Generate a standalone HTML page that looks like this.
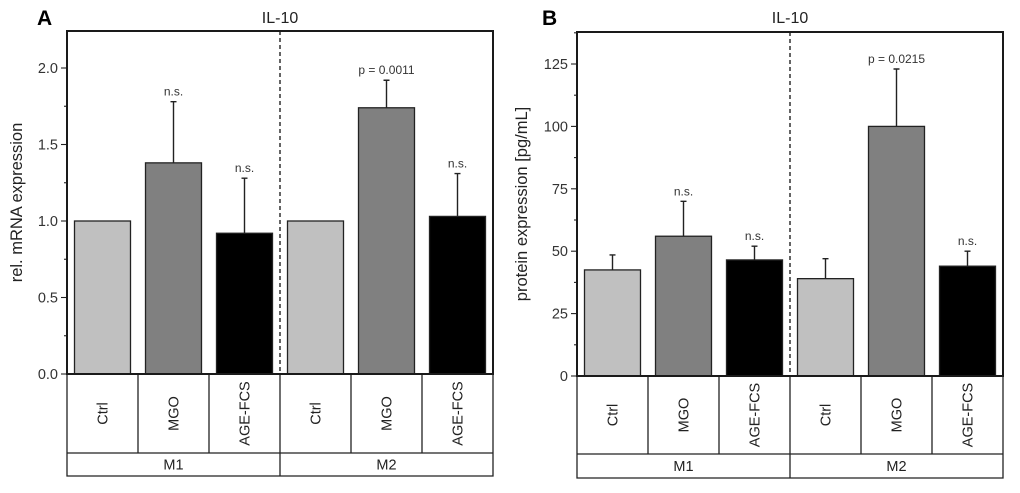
<!DOCTYPE html>
<html><head><meta charset="utf-8"><style>
body{margin:0;background:#fff;}
svg{display:block;font-family:"Liberation Sans",Arial,sans-serif;}
</style></head><body>
<svg id="fig" width="1020" height="493" viewBox="0 0 1020 493"></svg>
<script>
const categories = ["Ctrl","MGO","AGE-FCS","Ctrl","MGO","AGE-FCS"];
const groups = ["M1","M2"];
const mrnaValues = [1.0, 1.38, 0.92, 1.0, 1.74, 1.03];
const mrnaErrTop = [1.0, 1.78, 1.28, 1.0, 1.92, 1.31];
const mrnaNotes = ["", "n.s.", "n.s.", "", "p = 0.0011", "n.s."];
const mrnaTicks = [0, 0.5, 1.0, 1.5, 2.0];
const mrnaTickLabels = ["0.0","0.5","1.0","1.5","2.0"];
const protValues = [42.5, 56, 46.5, 39, 100, 44];
const protErrTop = [48.5, 70, 52, 47, 123, 50];
const protNotes = ["", "n.s.", "n.s.", "", "p = 0.0215", "n.s."];
const protTicks = [0, 25, 50, 75, 100, 125];
const protTickLabels = ["0","25","50","75","100","125"];
const fills = ["#c0c0c0","#808080","#000000","#c0c0c0","#808080","#000000"];

const NS = "http://www.w3.org/2000/svg";
const svg = document.getElementById('fig');
function mk(tag, attrs, parent, text){
  const e = document.createElementNS(NS, tag);
  for (const k in attrs) e.setAttribute(k, attrs[k]);
  if (text !== undefined) e.textContent = text;
  (parent||svg).appendChild(e);
  return e;
}

function panel(cfg){
  const g = mk('g', {});
  
  
  const L=cfg.left, R=cfg.right, T=cfg.top, B=cfg.bottom;
  const y = v => B - v / cfg.ymax * (B - T);
  const colW = (R - L) / categories.length;
  const x = i => L + colW * (i + 0.5);
  const mid = (L + R) / 2;

  const lab = mk('text', {x: cfg.labelX, y: 25, 'font-size': 21, 'font-weight': 'bold', fill: '#000'}, g, cfg.letter);
  
  
  const title = mk('text', {x: mid, y: 23, 'font-size': 16, 'text-anchor': 'middle', fill: '#222'}, g, 'IL-10');
  
  

  for (let i = 0; i < categories.length; i++){
    const bw = 56;
    const top = y(cfg.values[i]);
    const r = mk('rect', {x: x(i) - bw/2, y: top, width: bw, height: B - top, fill: fills[i], stroke: '#222', 'stroke-width': 1.3}, g);
    
    
    if (cfg.errTop[i] > cfg.values[i]){
      const e = mk('path', {d: `M${x(i)},${top} V${y(cfg.errTop[i])} M${x(i)-3},${y(cfg.errTop[i])} H${x(i)+3}`, stroke: '#222', 'stroke-width': 1.4, fill: 'none'}, g);
      
      
    }
    if (cfg.notes[i]){
      const n = mk('text', {x: x(i), y: y(cfg.errTop[i]) - 6, 'font-size': 12, 'text-anchor': 'middle', fill: '#333'}, g, cfg.notes[i]);
      
      
    }
  }
  const dv = mk('line', {x1: mid, y1: T, x2: mid, y2: B, stroke: '#222', 'stroke-width': 1.4, 'stroke-dasharray': '4,3'}, g);
  
  
  const step = cfg.ticks[1] - cfg.ticks[0];
  for (let v = 0; v <= cfg.ymax; v += step/2){
    const major = Math.abs((v/step) - Math.round(v/step)) < 1e-6;
    const t = mk('line', {x1: L, x2: L - (major ? 6 : 3), y1: y(v), y2: y(v), stroke: '#222', 'stroke-width': 1.1}, g);
    
    
  }
  cfg.ticks.forEach((v, k) => {
    const tl = mk('text', {x: L - 9, y: y(v) + 5, 'font-size': 14.5, 'text-anchor': 'end', fill: '#333'}, g, cfg.tickLabels[k]);
    
    
  });
  const yt = mk('text', {x: 0, y: 0, 'font-size': 16.5, 'text-anchor': 'middle', fill: '#222', transform: `translate(${cfg.ytitleX},${(T+B)/2}) rotate(-90)`}, g, cfg.ytitle);
  
  
  const tb = mk('path', {d: `M${L},${B} V${cfg.row2} H${R} V${B} M${L},${cfg.row1} H${R} M${mid},${B} V${cfg.row2}` + [1,2,4,5].map(i => ` M${L+colW*i},${B} V${cfg.row1}`).join(''), fill: 'none', stroke: '#222', 'stroke-width': 1.3}, g);
  
  
  categories.forEach((c, i) => {
    const cy = (B + cfg.row1) / 2;
    const ct = mk('text', {x: 0, y: 0, 'font-size': 14.5, 'text-anchor': 'middle', fill: '#222', transform: `translate(${x(i)+5},${cy}) rotate(-90)`}, g, c);
    
    
  });
  groups.forEach((gr, k) => {
    const gt = mk('text', {x: L + (R-L)*(k*0.5+0.25), y: (cfg.row1 + cfg.row2)/2 + 5, 'font-size': 14.5, 'text-anchor': 'middle', fill: '#222'}, g, gr);
    
    
  });
  // frame drawn last, on top of everything
  const fr = mk('rect', {x: L, y: T, width: R - L, height: B - T, fill: 'none', stroke: '#1a1a1a', 'stroke-width': 2}, svg);
  
  
}

panel({name:'panel-a-mrna', letter:'A', labelX:37, left:67, right:493, top:31, bottom:374, row1:453, row2:476,
  ymax:(374-31)/153, values:mrnaValues, errTop:mrnaErrTop, notes:mrnaNotes, ticks:mrnaTicks, tickLabels:mrnaTickLabels,
  ytitle:'rel. mRNA expression', ytitleX:22});
panel({name:'panel-b-protein', letter:'B', labelX:542, left:577, right:1003, top:32, bottom:376, row1:454, row2:478,
  ymax:(376-32)/2.496, values:protValues, errTop:protErrTop, notes:protNotes, ticks:protTicks, tickLabels:protTickLabels,
  ytitle:'protein expression [pg/mL]', ytitleX:527});
</script>
</body></html>
